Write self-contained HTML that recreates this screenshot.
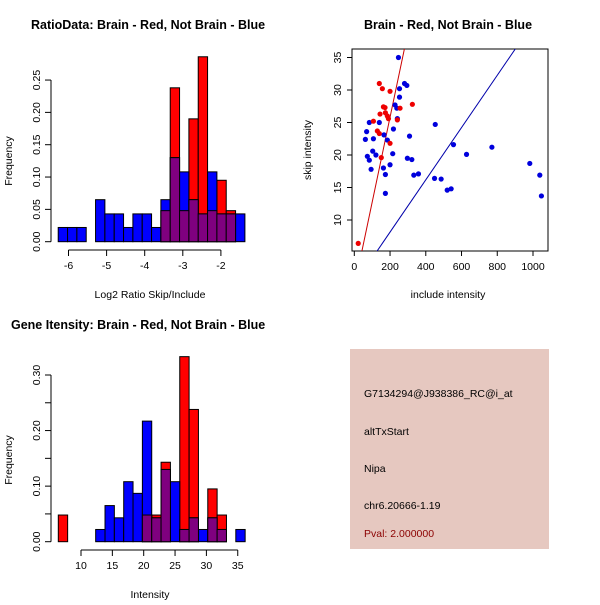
<!DOCTYPE html>
<html><head><meta charset="utf-8"><style>
body{margin:0;background:#fff}
svg text{font-family:"Liberation Sans",sans-serif;font-size:10.5px;fill:#000}
.t{font-weight:bold;font-size:12.5px}
</style></head><body>
<svg id="s" width="600" height="600" xmlns="http://www.w3.org/2000/svg">
<text class="t" x="31" y="29">RatioData: Brain - Red, Not Brain - Blue</text>
<text class="t" x="448" y="29" text-anchor="middle">Brain - Red, Not Brain - Blue</text>
<text class="t" x="11" y="329">Gene Itensity: Brain - Red, Not Brain - Blue</text>
<text x="150" y="298" text-anchor="middle" font-size="10">Log2 Ratio Skip/Include</text>
<text transform="translate(12,161) rotate(-90)" text-anchor="middle">Frequency</text>
<text x="448" y="298" text-anchor="middle">include intensity</text>
<text transform="translate(311,150) rotate(-90)" text-anchor="middle">skip intensity</text>
<text x="150" y="598" text-anchor="middle">Intensity</text>
<text transform="translate(12,460) rotate(-90)" text-anchor="middle">Frequency</text>
<g>
<rect x="350" y="349" width="199" height="200" fill="#e6c8c0"/>
<text x="364" y="397">G7134294@J938386_RC@i_at</text>
<text x="364" y="435">altTxStart</text>
<text x="364" y="472">Nipa</text>
<text x="364" y="509">chr6.20666-1.19</text>
<text x="364" y="537" fill="#8b0000" style="fill:#8b0000">Pval: 2.000000</text>
</g>
</svg>
<script>
const ratioRed=[0,0,0,0,0,0,0,0,0,0,0,0.048,0.238,0.048,0.19,0.286,0.048,0.095,0.048,0];
const ratioBlue=[0.022,0.022,0.022,0,0.065,0.043,0.043,0.022,0.043,0.043,0.022,0.065,0.13,0.108,0.065,0.043,0.108,0.043,0.043,0.043];
const ratioXTicks=[-6,-5,-4,-3,-2];
const ratioYTicks=["0.00","0.05","0.10","0.15","0.20","0.25"];
const intRed=[0.048,0,0,0,0,0,0,0,0,0.048,0.048,0.143,0,0.333,0.238,0,0.095,0.048,0,0];
const intBlue=[0,0,0,0,0.022,0.065,0.043,0.108,0.087,0.217,0.043,0.13,0.108,0.022,0.043,0.022,0.043,0.022,0,0.022];
const intXTicks=[10,15,20,25,30,35];
const intYTicks=["0.00","0.10","0.20","0.30"];
const redInc=[140,157,200,163,172,256,325,174,144,185,191,241,107,129,140,200,151,22];
const redSkip=[31.0,30.2,29.8,27.4,27.3,27.2,27.8,26.5,26.3,26.0,25.6,25.4,25.2,23.7,23.3,21.8,19.6,6.4];
const blueInc=[247,281,294,253,253,228,238,241,84,140,453,219,69,166,309,62,107,185,555,770,215,103,121,73,84,297,322,628,94,200,163,333,359,449,486,174,520,542,174,982,1038,1047];
const blueSkip=[35.0,31.0,30.7,30.2,28.9,27.7,27.2,25.6,25.0,25.0,24.7,24.0,23.6,23.1,22.9,22.4,22.5,22.3,21.6,21.2,20.2,20.6,20.0,19.8,19.2,19.5,19.3,20.1,17.8,18.5,18.0,16.9,17.1,16.4,16.3,17.0,14.6,14.8,14.1,18.7,16.9,13.7];
const scXTicks=[0,200,400,600,800,1000];
const scYTicks=[10,15,20,25,30,35];
const redFit=[-0.35,0.1308];
const blueFit=[0.1,0.0402];

const svg=document.getElementById('s');
const NS='http://www.w3.org/2000/svg';
function mk(t,a,p){const e=document.createElementNS(NS,t);for(const k in a)e.setAttribute(k,a[k]);(p||svg).appendChild(e);return e;}

function hist(red,blue,x0,bw,xs,ys,xt,yt,yMinor,axY,name){
  const g=mk('g',{});
  
  
  const bars=(arr,col,nm)=>arr.forEach((v,i)=>{if(v<=0)return;
    const xa=xs(x0+i*bw),xb=xs(x0+(i+1)*bw);
    const r=mk('rect',{x:xa,y:ys(v),width:xb-xa,height:ys(0)-ys(v),fill:col,stroke:'#000','stroke-width':1},g);
    
    });
  bars(red,'#ff0000','red');
  bars(blue,'#0000ff','blue');
  bars(red.map((v,i)=>Math.min(v,blue[i])),'#7f007f','overlap');
  const xa=mk('g',{},g);
  
  
  mk('line',{x1:xs(xt[0]),x2:xs(xt[xt.length-1]),y1:axY,y2:axY,stroke:'#000'},xa);
  xt.forEach(t=>{mk('line',{x1:xs(t),x2:xs(t),y1:axY,y2:axY+6,stroke:'#000'},xa);
    const tx=mk('text',{x:xs(t),y:axY+19,'text-anchor':'middle'},xa);tx.textContent=t;});
  const ya=mk('g',{},g);
  
  
  const last=yMinor[yMinor.length-1];
  mk('line',{x1:51,x2:51,y1:ys(0),y2:ys(last),stroke:'#000'},ya);
  yMinor.forEach(v=>mk('line',{x1:45,x2:51,y1:ys(v),y2:ys(v),stroke:'#000'},ya));
  yt.forEach(t=>{const v=parseFloat(t);
    const tx=mk('text',{transform:`translate(40,${ys(v)}) rotate(-90)`,'text-anchor':'middle'},ya);tx.textContent=t;});
}
hist(ratioRed,ratioBlue,-6.27,0.245,v=>68.5+(v+6)*38.1,v=>241.7-v*646.6,ratioXTicks,ratioYTicks,[0,0.05,0.1,0.15,0.2,0.25],250,'ratio');
hist(intRed,intBlue,6.38,1.49,v=>81+(v-10)*6.27,v=>541.7-v*555.7,intXTicks,intYTicks,[0,0.05,0.1,0.15,0.2,0.25,0.3],550,'intensity');

const sx=v=>354.3+v*0.1787, sy=v=>220-(v-10)*6.5;
const sg=mk('g',{});


const defs=mk('defs',{},sg);
const cp=mk('clipPath',{id:'c'},defs);
mk('rect',{x:352,y:49,width:196,height:202},cp);
mk('rect',{x:352,y:49,width:196,height:202,fill:'none',stroke:'#000'},sg);
[[redFit,'#cc0000','red-fit-line'],[blueFit,'#0000aa','blue-fit-line']].forEach(([f,c,n])=>{
  const l=mk('line',{x1:sx(-100),y1:sy(f[0]+f[1]*-100),x2:sx(1200),y2:sy(f[0]+f[1]*1200),stroke:c,'clip-path':'url(#c)'},sg);
  
  });
blueInc.forEach((v,i)=>{const c=mk('circle',{cx:sx(v),cy:sy(blueSkip[i]),r:2.6,fill:'#0000dd'},sg);
  
  });
redInc.forEach((v,i)=>{const c=mk('circle',{cx:sx(v),cy:sy(redSkip[i]),r:2.6,fill:'#ee0000'},sg);
  
  });
const sxa=mk('g',{},sg);


scXTicks.forEach(t=>{mk('line',{x1:sx(t),x2:sx(t),y1:251,y2:256,stroke:'#000'},sxa);
  const tx=mk('text',{x:sx(t),y:270,'text-anchor':'middle'},sxa);tx.textContent=t;});
const sya=mk('g',{},sg);


scYTicks.forEach(t=>{mk('line',{x1:347,x2:352,y1:sy(t),y2:sy(t),stroke:'#000'},sya);
  const tx=mk('text',{transform:`translate(341,${sy(t)}) rotate(-90)`,'text-anchor':'middle'},sya);tx.textContent=t;});
</script>
</body></html>
